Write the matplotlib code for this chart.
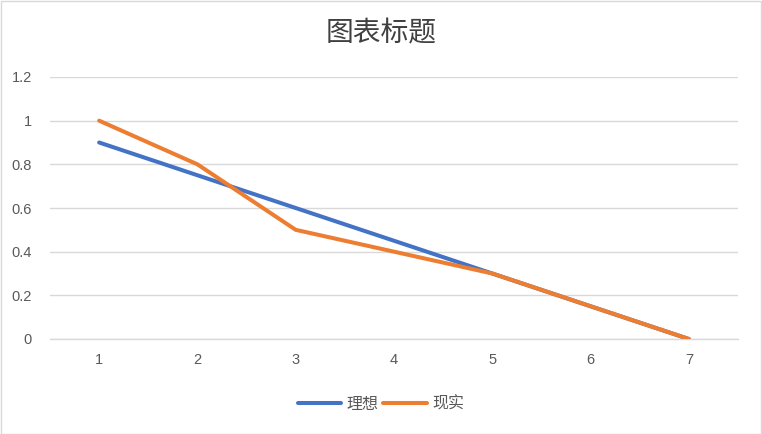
import matplotlib
matplotlib.use("Agg")
import matplotlib.pyplot as plt
from matplotlib.patches import Rectangle

plt.rcParams['font.family'] = ['Noto Sans CJK SC', 'DejaVu Sans']

categories = ["1", "2", "3", "4", "5", "6", "7"]
ideal = [0.9, 0.75, 0.6, 0.45, 0.3, 0.15, 0.0]
actual = [1.0, 0.8, 0.5, 0.4, 0.3, 0.15, 0.0]
series_names = ["理想", "现实"]
title = "图表标题"
yticks = [0, 0.2, 0.4, 0.6, 0.8, 1, 1.2]
ytick_labels = ["0", "0.2", "0.4", "0.6", "0.8", "1", "1.2"]

W, H = 762, 434
fig = plt.figure(figsize=(W / 100, H / 100), dpi=100)
fig.patch.set_facecolor("white")
fig.add_artist(Rectangle((0.5 / W, 0.5 / H), 1 - 1.5 / W, 1 - 1.5 / H,
                         transform=fig.transFigure, fill=False,
                         edgecolor="#D9D9D9", lw=1))

ax = fig.add_axes([50 / W, 1 - 339 / H, (738 - 50) / W, (339 - 77) / H])
x = list(range(len(categories)))
ax.plot(x, ideal, color="#4472C4", lw=2.9, solid_capstyle="round",
        solid_joinstyle="round", label=series_names[0], zorder=3)
ax.plot(x, actual, color="#ED7D31", lw=2.9, solid_capstyle="round",
        solid_joinstyle="round", label=series_names[1], zorder=4)

ax.set_xlim(-0.5, len(categories) - 0.5)
ax.set_ylim(0, 1.2)
ax.set_yticks(yticks)
ax.set_yticklabels(ytick_labels)
ax.set_xticks(x)
ax.set_xticklabels(categories)
ax.grid(axis="y", color="#D9D9D9", lw=1)
ax.set_axisbelow(True)
for s in ["top", "right", "left"]:
    ax.spines[s].set_visible(False)
ax.spines["bottom"].set_color("#D9D9D9")
ax.spines["bottom"].set_linewidth(1)
ax.tick_params(axis="both", length=0, colors="#595959", labelsize=10.5)
ax.tick_params(axis="y", pad=13)
ax.tick_params(axis="x", pad=10)
for lab in ax.get_xticklabels() + ax.get_yticklabels():
    lab.set_fontfamily(["Liberation Sans", "DejaVu Sans"])

fig.text(381 / W, 1 - 33 / H, title, ha="center", va="center",
         fontsize=20, color="#404040", fontweight="medium")

leg = fig.legend(loc="center", bbox_to_anchor=(381 / W, 1 - 404 / H),
                 ncol=2, frameon=False, fontsize=11.5, handlelength=2.7,
                 columnspacing=0.3, handletextpad=0.35)
for t in leg.get_texts():
    t.set_color("#595959")

fig.savefig("out.png", dpi=100)
